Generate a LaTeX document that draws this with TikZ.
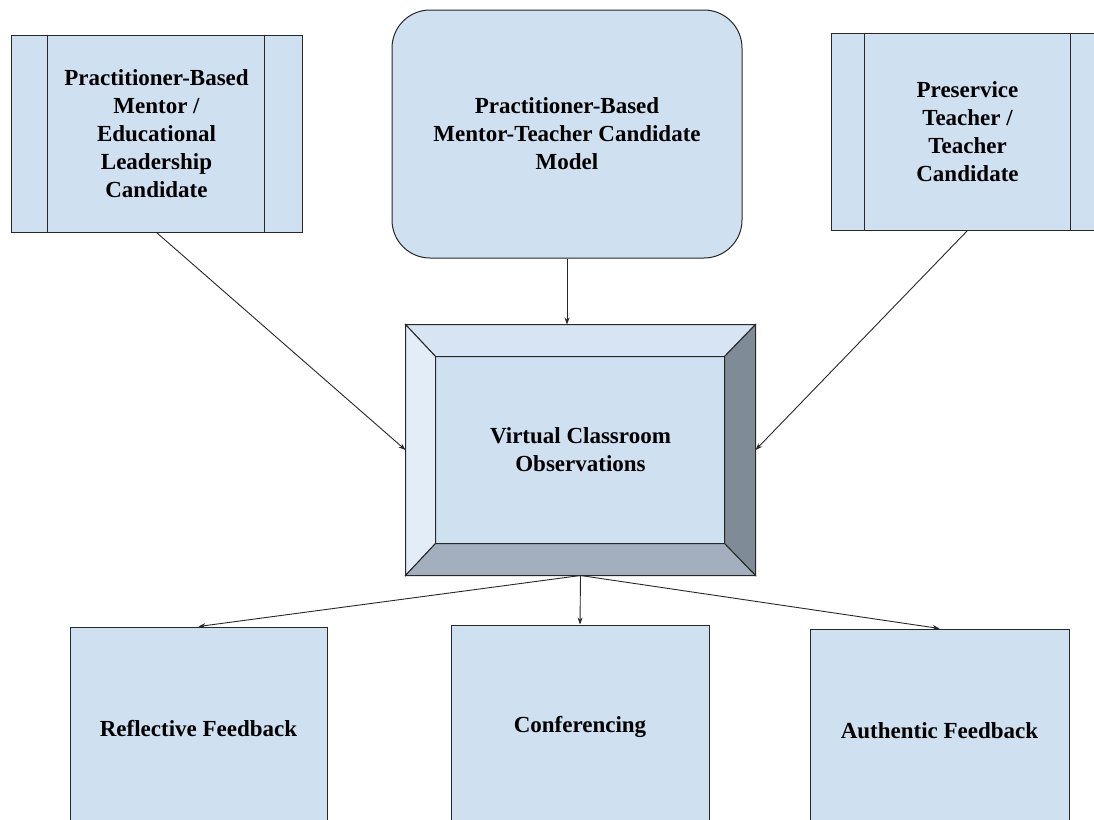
\documentclass[tikz,border=0pt]{standalone}
\usepackage{fontspec}
\setmainfont{Liberation Serif}
\usetikzlibrary{arrows.meta,calc}
\definecolor{boxfill}{RGB}{207,224,241}
\definecolor{bevtop}{RGB}{214,228,243}
\definecolor{bevleft}{RGB}{226,237,248}
\definecolor{bevright}{RGB}{128,139,152}
\definecolor{bevbot}{RGB}{163,175,190}
\definecolor{edge}{RGB}{40,40,40}
\begin{document}
\begin{tikzpicture}[x=1pt, y=-1pt,
    box/.style={draw=edge, fill=boxfill, line width=1pt, inner sep=0pt, align=center,
        font=\fontsize{23}{28}\selectfont\bfseries},
    link/.style={draw=edge, line width=0.9pt, -{Stealth[length=7pt,width=5pt]}}]
    % page
    \useasboundingbox (0,0) rectangle (1094,819);
    \fill[white] (0,0) rectangle (1094,819);
    \clip (0,0) rectangle (1094,819);
    % top row
    \node[box, minimum width=291pt, minimum height=197pt] (mentor) at (156.5,133.5)
        {Practitioner-Based\\Mentor /\\Educational\\Leadership\\Candidate};
    \draw[edge, line width=1pt] ([xshift=37pt]mentor.north west) -- ([xshift=37pt]mentor.south west);
    \draw[edge, line width=1pt] ([xshift=-38pt]mentor.north east) -- ([xshift=-38pt]mentor.south east);
    \node[box, rounded corners=38pt, minimum width=350pt, minimum height=248pt] (model) at (567,134)
        {Practitioner-Based\\Mentor-Teacher Candidate\\Model};
    \node[box, minimum width=273pt, minimum height=197pt] (preservice) at (967.5,131.5)
        {Preservice\\Teacher /\\Teacher\\Candidate};
    \draw[edge, line width=1pt] ([xshift=34pt]preservice.north west) -- ([xshift=34pt]preservice.south west);
    \draw[edge, line width=1pt] ([xshift=-34pt]preservice.north east) -- ([xshift=-34pt]preservice.south east);
    % bevelled box
    \node[box, minimum width=349pt, minimum height=250pt] (obs) at (580.5,450)
        {Virtual Classroom\\Observations};
    \coordinate (inw) at ($(obs.north west)+(30,32)$);
    \coordinate (ine) at ($(obs.north east)+(-31,32)$);
    \coordinate (isw) at ($(obs.south west)+(30,-32)$);
    \coordinate (ise) at ($(obs.south east)+(-31,-32)$);
    \filldraw[fill=bevtop, draw=edge, line width=1pt] (obs.north west) -- (obs.north east) -- (ine) -- (inw) -- cycle;
    \filldraw[fill=bevleft, draw=edge, line width=1pt] (obs.north west) -- (inw) -- (isw) -- (obs.south west) -- cycle;
    \filldraw[fill=bevright, draw=edge, line width=1pt] (obs.north east) -- (obs.south east) -- (ise) -- (ine) -- cycle;
    \filldraw[fill=bevbot, draw=edge, line width=1pt] (obs.south west) -- (isw) -- (ise) -- (obs.south east) -- cycle;
    % bottom row
    \node[box, minimum width=257pt, minimum height=204pt] (reflect) at (198.5,729) {Reflective Feedback};
    \node[box, minimum width=258pt, minimum height=204pt] (confer) at (580,727) {Conferencing};
    \node[box, minimum width=259pt, minimum height=204pt] (authentic) at (939.5,731) {Authentic Feedback};
    % arrows
    \draw[link] (mentor.south) -- (obs.west);
    \draw[link] (model.south) -- (model.south |- obs.north);
    \draw[link] (preservice.south) -- (obs.east);
    \draw[link] (obs.south) -- (reflect.north);
    \draw[link] (obs.south) -- (confer.north);
    \draw[link] (obs.south) -- (authentic.north);
\end{tikzpicture}
\end{document}
